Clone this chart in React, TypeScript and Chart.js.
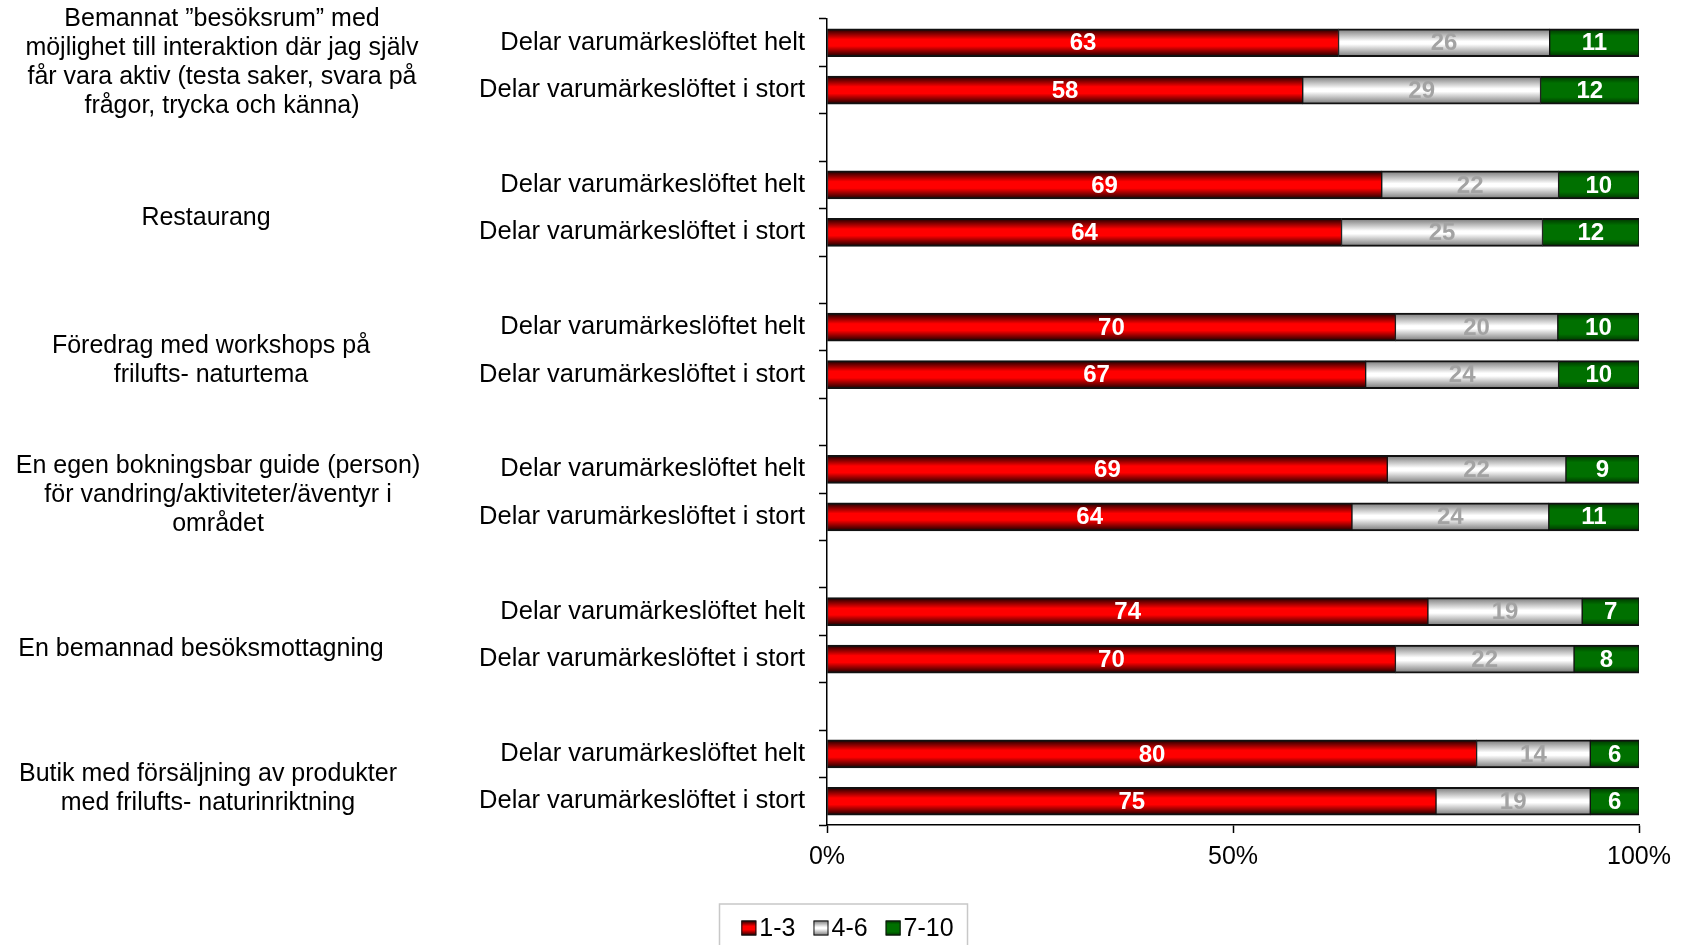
import React, { useEffect, useRef } from 'react';
import { Chart, registerables } from 'chart.js';

Chart.register(...registerables);

// ---------- data ----------
const groupLabels: string[][] = [
  ['Bemannat ”besöksrum” med', 'möjlighet till interaktion där jag själv', 'får vara aktiv (testa saker, svara på', 'frågor, trycka och känna)'],
  ['Restaurang'],
  ['Föredrag med workshops på', 'frilufts- naturtema'],
  ['En egen bokningsbar guide (person)', 'för vandring/aktiviteter/äventyr i', 'området'],
  ['En bemannad besöksmottagning'],
  ['Butik med försäljning av produkter', 'med frilufts- naturinriktning'],
];
const statements = ['Delar varumärkeslöftet helt', 'Delar varumärkeslöftet i stort'];
const seriesNames = ['1-3', '4-6', '7-10'];
const low = [63, 58, 69, 64, 70, 67, 69, 64, 74, 70, 80, 75];
const mid = [26, 29, 22, 25, 20, 24, 22, 24, 19, 22, 14, 19];
const high = [11, 12, 10, 12, 10, 10, 9, 11, 7, 8, 6, 6];
const xTickValues = [0, 50, 100];

// ---------- layout / styling ----------
const FONT = '"Liberation Sans", Arial, Helvetica, sans-serif';
const BAR = 28;
const groupLabelX = [222, 206, 211, 218, 201, 208];
const groupLabelDy = [-4, 9, 10, 2, 14, 11];
const stopsList: [number, string][][] = [
  [[0, '#160000'], [0.38, '#ff0000'], [0.62, '#ff0000'], [1, '#160000']],
  [[0, '#777777'], [0.45, '#ffffff'], [0.55, '#ffffff'], [1, '#777777']],
  [[0, '#003200'], [0.25, '#007000'], [0.75, '#007000'], [1, '#003200']],
];
const solidColors = ['#ff0000', '#e0e0e0', '#007000'];
const labelColors = ['#ffffff', '#a3a3a3', '#ffffff'];

// ---------- derived rows ----------
const seriesRaw = [low, mid, high];
const rowLabels: string[] = [];
const rowIndex: number[] = [];
groupLabels.forEach((_, g) => {
  statements.forEach((s, k) => {
    rowLabels.push(s);
    rowIndex.push(g * statements.length + k);
  });
  if (g < groupLabels.length - 1) {
    rowLabels.push('');
    rowIndex.push(-1);
  }
});
const totals = low.map((v, i) => v + mid[i] + high[i]);

function makeGradient(ctx: CanvasRenderingContext2D, y0: number, y1: number, stops: [number, string][]) {
  const g = ctx.createLinearGradient(0, y0, 0, y1);
  stops.forEach(([o, c]) => g.addColorStop(o, c));
  return g;
}

function barFill(si: number) {
  return (c: any) => {
    const ys = c.chart?.scales?.y;
    if (!ys || c.dataIndex == null || !isFinite(ys.top) || ys.height <= 0) return solidColors[si];
    const yc = ys.getPixelForValue(c.dataIndex);
    return makeGradient(c.chart.ctx, yc - BAR / 2, yc + BAR / 2, stopsList[si]);
  };
}

const valueLabelsPlugin = {
  id: 'valueLabels',
  afterDatasetsDraw(chart: any) {
    const ctx = chart.ctx as CanvasRenderingContext2D;
    ctx.save();
    ctx.font = `bold 24px ${FONT}`;
    ctx.textAlign = 'center';
    ctx.textBaseline = 'middle';
    chart.data.datasets.forEach((_: any, di: number) => {
      const meta = chart.getDatasetMeta(di);
      meta.data.forEach((el: any, ri: number) => {
        const idx = rowIndex[ri];
        if (idx < 0) return;
        ctx.fillStyle = labelColors[di];
        ctx.fillText(String(seriesRaw[di][idx]), (el.x + el.base) / 2, el.y + 1);
      });
    });
    ctx.restore();
  },
};

const groupLabelsPlugin = {
  id: 'groupLabels',
  afterDraw(chart: any) {
    const ctx = chart.ctx as CanvasRenderingContext2D;
    const ys = chart.scales.y;
    const lineH = 29;
    ctx.save();
    ctx.font = `25px ${FONT}`;
    ctx.fillStyle = '#000';
    ctx.textAlign = 'center';
    ctx.textBaseline = 'middle';
    groupLabels.forEach((lines, g) => {
      const r0 = g * 3;
      const yMid = (ys.getPixelForValue(r0) + ys.getPixelForValue(r0 + 1)) / 2 + groupLabelDy[g];
      const start = yMid - ((lines.length - 1) * lineH) / 2;
      lines.forEach((t, li) => ctx.fillText(t, groupLabelX[g], start + li * lineH));
    });
    ctx.restore();
  },
};

const legendPlugin = {
  id: 'customLegend',
  afterDraw(chart: any) {
    const ctx = chart.ctx as CanvasRenderingContext2D;
    ctx.save();
    ctx.font = `25px ${FONT}`;
    const sq = 15, gapText = 3, gapItem = 18;
    const widths = seriesNames.map((n) => ctx.measureText(n).width);
    const content = widths.reduce((a, w) => a + sq + gapText + w, 0) + gapItem * (seriesNames.length - 1);
    const cx = chart.width / 2;
    const boxW = 248;
    const boxTop = 904;
    ctx.strokeStyle = '#c8c8c8';
    ctx.lineWidth = 1.5;
    ctx.strokeRect(cx - boxW / 2, boxTop, boxW, 60);
    let x = cx - content / 2 + 4;
    const yc = 928;
    seriesNames.forEach((n, i) => {
      ctx.fillStyle = makeGradient(ctx, yc - sq / 2, yc + sq / 2, stopsList[i]);
      ctx.fillRect(x, yc - sq / 2, sq, sq);
      ctx.strokeStyle = '#111';
      ctx.lineWidth = 1;
      ctx.strokeRect(x + 0.5, yc - sq / 2 + 0.5, sq - 1, sq - 1);
      x += sq + gapText;
      ctx.fillStyle = '#000';
      ctx.textAlign = 'left';
      ctx.textBaseline = 'middle';
      ctx.fillText(n, x, yc + 1);
      x += widths[i] + gapItem;
    });
    ctx.restore();
  },
};

export default function App() {
  const ref = useRef<HTMLCanvasElement | null>(null);
  useEffect(() => {
    if (!ref.current) return;
    const datasets = seriesNames.map((name, si) => ({
      label: name,
      data: rowIndex.map((idx) => (idx < 0 ? null : (seriesRaw[si][idx] / totals[idx]) * 100)),
      backgroundColor: barFill(si),
      borderColor: '#111111',
      borderWidth: { top: 2, bottom: 2, left: 1, right: 1 },
      borderSkipped: false as const,
      barThickness: BAR,
    }));
    const chart = new Chart(ref.current, {
      type: 'bar',
      data: { labels: rowLabels, datasets: datasets as any },
      options: {
        indexAxis: 'y',
        animation: false,
        responsive: false,
        layout: { padding: { left: 0, right: 48, top: 19, bottom: 0 } },
        plugins: { legend: { display: false }, tooltip: { enabled: false } },
        scales: {
          x: {
            stacked: true,
            min: 0,
            max: 100,
            afterBuildTicks: (scale: any) => {
              scale.ticks = xTickValues.map((v) => ({ value: v }));
            },
            afterFit: (scale: any) => {
              scale.height = 120;
              scale.paddingLeft = 0;
              scale.paddingRight = 0;
            },
            ticks: {
              callback: (v: any) => `${v}%`,
              color: '#000',
              font: { family: FONT, size: 25 },
              padding: 9,
              maxRotation: 0,
            },
            grid: { drawOnChartArea: false, drawTicks: true, tickLength: 8, tickColor: '#000', tickWidth: 1.5 },
            border: { color: '#000', width: 1.5 },
          },
          y: {
            stacked: true,
            afterFit: (scale: any) => {
              scale.width = 827;
              scale.paddingTop = 0;
              scale.paddingBottom = 0;
            },
            ticks: {
              autoSkip: false,
              color: '#000',
              font: { family: FONT, size: 25.5 },
              padding: 14,
            },
            grid: { drawOnChartArea: false, drawTicks: true, tickLength: 8, tickColor: '#000', tickWidth: 1.5, offset: true },
            border: { color: '#000', width: 1.5 },
          },
        },
      },
      plugins: [valueLabelsPlugin, groupLabelsPlugin, legendPlugin],
    });
    return () => chart.destroy();
  }, []);
  return (
    <div style={{ position: 'fixed', left: 0, top: 0, width: 1687, height: 945, overflow: 'hidden', background: '#fff' }}>
      <canvas ref={ref} width={1687} height={945} style={{ display: 'block' }} />
    </div>
  );
}
